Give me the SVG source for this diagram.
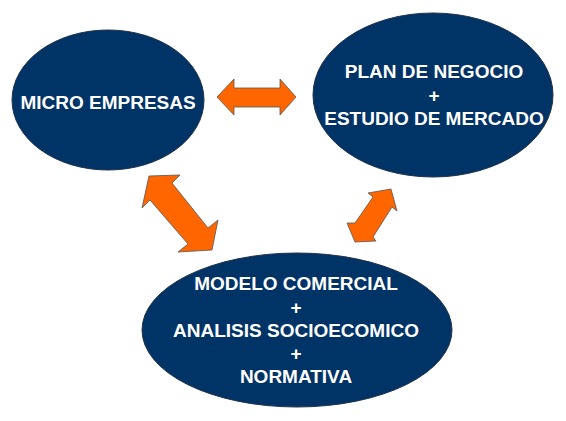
<svg xmlns="http://www.w3.org/2000/svg" width="566" height="421" viewBox="0 0 566 421">
<style>
.node{fill:#003366;stroke:#22324a;stroke-width:1}
.lbl{fill:#ffffff;font-family:"Liberation Sans",Arial,sans-serif;font-weight:bold;font-size:19px;text-anchor:middle}
.arr{fill:#ff6600;stroke:#555555;stroke-width:0.8;stroke-linejoin:miter}
</style>
<rect width="566" height="421" fill="#ffffff"/>
<g id="micro">
<ellipse class="node" cx="108" cy="100" rx="96" ry="70"/>
<text class="lbl" x="108" y="109">MICRO EMPRESAS</text>
</g>
<g id="plan">
<ellipse class="node" cx="433" cy="95" rx="120" ry="82"/>
<text class="lbl" x="434" y="78">PLAN DE NEGOCIO</text>
<text class="lbl" x="434" y="101.5">+</text>
<text class="lbl" x="434" y="125">ESTUDIO DE MERCADO</text>
</g>
<g id="modelo">
<ellipse class="node" cx="297" cy="330" rx="155" ry="77"/>
<text class="lbl" x="296" y="290">MODELO COMERCIAL</text>
<text class="lbl" x="296" y="313.5">+</text>
<text class="lbl" x="296" y="337">ANALISIS SOCIOECOMICO</text>
<text class="lbl" x="296" y="360">+</text>
<text class="lbl" x="296" y="383">NORMATIVA</text>
</g>
<g id="connectors">
<polygon class="arr" points="217,97 234,79 234,88 280,88 280,79 296,97 280,115 280,107 234,107 234,115"/>
<polygon class="arr" points="149,176 180,175 172,183 208,228 218,220 212,250 178,252 188,244 150,200 142,208"/>
<polygon class="arr" points="391,189 397,211 392,207 373,237 376,241 355,242 347,223 355,223 373,197 368,193"/>
</g>
</svg>
